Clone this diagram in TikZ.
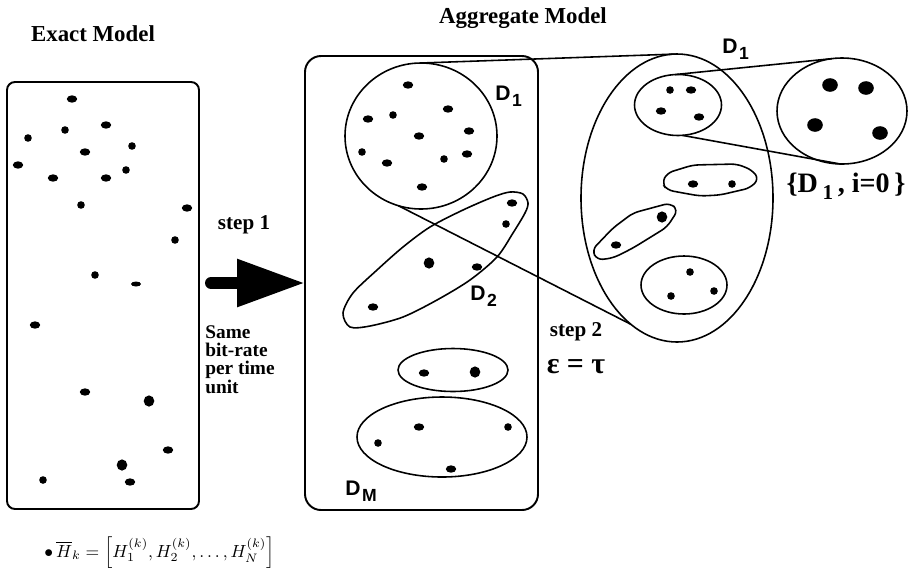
\documentclass[tikz,border=0pt]{standalone}
\usepackage{fontspec}
\setmainfont{Liberation Serif}
\setsansfont{Liberation Sans}
\usepackage{amsmath, amssymb}
\usepackage{tikz}
\usetikzlibrary{arrows.meta}
\usetikzlibrary{shapes.geometric}

\newlength{\unitpx}
\setlength{\unitpx}{0.02cm}
\newcommand{\dsub}[1]{D\kern1.5\unitpx\raisebox{-0.6ex}{\fontsize{10}{10}\selectfont #1}}

\begin{document}
\begin{tikzpicture}[x=0.02cm, y=-0.02cm,
		box/.style={draw, line width=1.1pt, inner sep=0pt, outer sep=0pt},
		group/.style={draw, ellipse, line width=0.9pt, inner sep=0pt, outer sep=0pt},
		blob/.style={draw, line width=0.9pt},
		link/.style={line width=0.9pt},
		title/.style={font=\bfseries\fontsize{13}{13}\selectfont, anchor=base, inner sep=0pt},
		steplabel/.style={font=\bfseries\fontsize{12}{12}\selectfont, anchor=base, inner sep=0pt},
		dlabel/.style={font=\sffamily\bfseries\fontsize{12}{12}\selectfont, anchor=base west, inner sep=0pt},
		sdot/.style={x radius=3.8\unitpx, y radius=3.8\unitpx},
		mdot/.style={x radius=5.2\unitpx, y radius=3.7\unitpx},
		bdot/.style={x radius=5.3\unitpx, y radius=5.6\unitpx},
		fdot/.style={x radius=5\unitpx, y radius=2.5\unitpx},
		ldot/.style={x radius=7.8\unitpx, y radius=6.8\unitpx},
		step1arrow/.style={line width=0.24cm, line cap=round, -{Triangle[length=1.36cm, width=0.9cm]}}
	]
	\useasboundingbox (0,0) rectangle (909,569);

	% the two models
	\node[box, rounded corners=8\unitpx, minimum width=192\unitpx, minimum height=427\unitpx] (exact) at (103,295.5) {};
	\node[box, rounded corners=16\unitpx, minimum width=233\unitpx, minimum height=454\unitpx] (aggr) at (421.5,283) {};
	\node[title] (exacttitle) at (93,41) {Exact Model};
	\node[title] (aggrtitle) at (523,23) {Aggregate Model};

	\foreach \x/\y in {65/130, 28/138, 132/146, 126/170, 81/205, 175/240, 95/275, 43/480}
		\fill (\x,\y) ellipse [sdot];
	\foreach \x/\y in {72/99, 106/125, 85/152, 18/165, 53/178, 106/178, 187/208, 35/325, 85/392, 168/450, 130/482}
		\fill (\x,\y) ellipse [mdot];
	\foreach \x/\y in {149/401, 122/465}
		\fill (\x,\y) ellipse [bdot];
	\fill (136,284) ellipse [fdot];

	% groups of the aggregate model
	\node[group, minimum width=152\unitpx, minimum height=146\unitpx] (d1) at (421,136) {};
	\node[group, minimum width=110\unitpx, minimum height=43\unitpx] (pair) at (453,370) {};
	\node[group, minimum width=170\unitpx, minimum height=80\unitpx] (dm) at (442,437) {};
	\draw[blob] plot[smooth cycle] coordinates {(343,313) (350,327) (370,326) (403,317) (437,300) (470,280) (497,257) (513,233) (525,213) (528,203) (523,194) (510,192) (493,197) (463,210) (430,227) (403,247) (377,270) (353,293)};

	\foreach \x/\y in {393/115, 362/152, 444/159, 506/224, 508/427, 378/443}
		\fill (\x,\y) ellipse [sdot];
	\foreach \x/\y in {408/85, 448/109, 368/119, 469/131, 419/136, 387/163, 467/154, 422/187, 512/203, 477/267, 373/307, 424/373, 419/427, 451/469}
		\fill (\x,\y) ellipse [mdot];
	\foreach \x/\y in {429/263, 475/372}
		\fill (\x,\y) ellipse [bdot];

	\node[dlabel] (d1lab) at (495,100) {\dsub{1}};
	\node[dlabel] (d2lab) at (470,300) {\dsub{2}};
	\node[dlabel] (dmlab) at (345,495) {\dsub{M}};

	% D1 opened up
	\node[group, minimum width=192\unitpx, minimum height=288\unitpx] (d1open) at (677,198) {};
	\node[group, minimum width=87\unitpx, minimum height=61\unitpx] (d1sub) at (678,105) {};
	\node[group, minimum width=86\unitpx, minimum height=58\unitpx] (trio) at (684,285) {};
	\node[group, minimum width=130\unitpx, minimum height=106\unitpx] (d1zero) at (842,111) {};
	\draw[blob, rounded corners=6\unitpx] (662,183) -- (667,173) -- (693,165) -- (737,164) -- (752,170) -- (759,179) -- (750,188) -- (720,195) -- (700,196) -- (683,193) -- (667,190) -- cycle;
	\draw[blob, rounded corners=6\unitpx] (592,250) -- (613,228) -- (633,213) -- (670,203) -- (678,210) -- (667,227) -- (633,248) -- (613,258) -- (597,260) -- cycle;

	\foreach \x/\y in {670/90, 732/184, 690/272, 671/296, 714/291}
		\fill (\x,\y) ellipse [sdot];
	\foreach \x/\y in {691/90, 661/111, 699/117, 693/184, 616/245}
		\fill (\x,\y) ellipse [mdot];
	\fill (662,217) ellipse [bdot];
	\foreach \x/\y in {830/85, 866/88, 815/125, 880/133}
		\fill (\x,\y) ellipse [ldot];

	\node[dlabel] (d1openlab) at (722,53) {\dsub{1}};
	\node[steplabel, font=\bfseries\fontsize{16}{16}\selectfont] (d1zerolab) at (846,192) {\{D\,\raisebox{-0.6ex}{\fontsize{12}{12}\selectfont 1}\,, i=0\,\}};

	\draw[link] (d1.north) -- (d1open.north);
	\draw[link] (d1.252) -- (d1open.250);
	\draw[link] (d1sub.96) -- (d1zero.101);
	\draw[link] (d1sub.278) -- (d1zero.268);

	% steps
	\coordinate (s1start) at ([xshift=12\unitpx]exact.east);
	\draw[step1arrow] (s1start |- aggr.west) -- (aggr.west);
	\node[steplabel] (step1) at (244,229) {step 1};
	\node[font=\bfseries\fontsize{11}{10.3}\selectfont, align=left, anchor=base west, inner sep=0pt] (samerate) at (205,393) {Same\\bit-rate\\per time\\unit};
	\node[steplabel] (step2) at (576,336) {step 2};
	\node[steplabel, font=\bfseries\fontsize{17}{17}\selectfont] (epstau) at (576,373) {ε = τ};

	\node[anchor=base west, inner sep=0pt, font=\fontsize{10}{10}\selectfont] (hk) at (44,557) {$\bullet\,\overline{H}_{k}=\Big[H_1^{(k)},H_2^{(k)},\dots,H_N^{(k)}\Big]$};
\end{tikzpicture}
\end{document}
